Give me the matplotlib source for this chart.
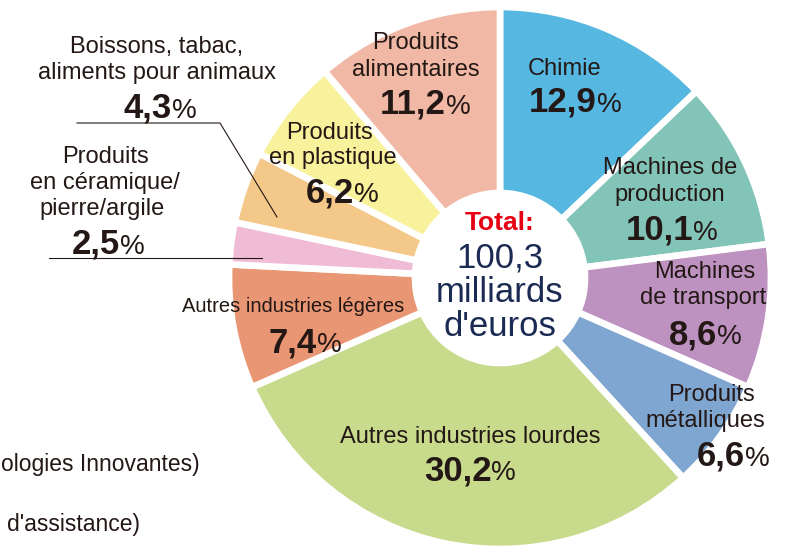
import matplotlib
matplotlib.use("Agg")
import matplotlib.pyplot as plt
from matplotlib.offsetbox import TextArea, HPacker, AnnotationBbox

# ---- data ----
categories = ["Chimie", "Machines de production", "Machines de transport",
              "Produits métalliques", "Autres industries lourdes",
              "Autres industries légères", "Produits en céramique/pierre/argile",
              "Boissons, tabac, aliments pour animaux", "Produits en plastique",
              "Produits alimentaires"]
values = [12.9, 10.1, 8.6, 6.6, 30.2, 7.4, 2.5, 4.3, 6.2, 11.2]
value_labels = ["12,9", "10,1", "8,6", "6,6", "30,2", "7,4", "2,5", "4,3", "6,2", "11,2"]
colors = ["#56B7E1", "#82C4B7", "#BE92C0", "#7FA5D1", "#C8DB8D",
          "#E99674", "#F0BBD5", "#F4C889", "#F8F29C", "#F1B9A5"]
total_lines = ["Total:", "100,3", "milliards", "d'euros"]

W, H = 800, 547
fig = plt.figure(figsize=(8, 5.47), dpi=100)
ax = fig.add_axes([0, 0, 1, 1])

FONT = ["Liberation Sans", "DejaVu Sans"]
DARK = "#231815"

def Y(py):
    return H - py

cx, cy = 500, Y(278)
R, r_in = 271, 85
ax.pie(values, colors=colors, startangle=90, counterclock=False,
       radius=R, center=(cx, cy),
       wedgeprops=dict(width=R - r_in, edgecolor="white", linewidth=4.8))
ax.set_xlim(0, W)
ax.set_ylim(0, H)
ax.set_aspect("auto")
ax.axis("off")

def label(x, py, s, size=17, **kw):
    ax.text(x, Y(py), s, fontsize=size, family=FONT, color=DARK,
            ha="center", va="center", **kw)

def pct(x, py, num):
    a = TextArea(num, textprops=dict(fontsize=25, fontweight="bold",
                                     family=FONT, color=DARK))
    b = TextArea("%", textprops=dict(fontsize=20, family=FONT, color=DARK))
    box = HPacker(children=[a, b], align="baseline", pad=0, sep=0)
    ab = AnnotationBbox(box, (x, Y(py)), frameon=False,
                        box_alignment=(0.5, 0.5), pad=0)
    ax.add_artist(ab)

# Chimie
label(565, 69, "Chimie")
pct(575, 102, value_labels[0])
# Machines de production
label(670, 168, "Machines de")
label(670, 195, "production")
pct(672, 230, value_labels[1])
# Machines de transport
label(705, 272, "Machines")
label(703, 298, "de transport")
pct(705, 335, value_labels[2])
# Produits métalliques
label(712, 395, "Produits")
label(705, 421, "métalliques")
pct(733, 456, value_labels[3])
# Autres industries lourdes
label(470, 437, "Autres industries lourdes")
pct(470, 471, value_labels[4])
# Autres industries légères
label(293, 307, "Autres industries légères", size=14.5)
pct(305, 343, value_labels[5])
# Céramique
label(105, 157, "Produits")
label(105, 183, "en céramique/")
label(102, 209, "pierre/argile")
pct(108, 244, value_labels[6])
# Boissons
label(157, 47, "Boissons, tabac,")
label(157, 73, "aliments pour animaux")
pct(160, 108, value_labels[7])
# Plastique
label(330, 133, "Produits")
label(333, 158, "en plastique")
pct(342, 193, value_labels[8])
# Alimentaires
label(416, 43, "Produits")
label(416, 70, "alimentaires")
pct(425, 104, value_labels[9])

# leader lines
ax.plot([77, 220, 277], [Y(123), Y(123), Y(217)], color=DARK, lw=0.8)
ax.plot([49, 262], [Y(258), Y(258)], color=DARK, lw=0.8)

# centre text
ax.text(500, Y(223), total_lines[0], fontsize=19, fontweight="bold",
        color="#E60012", family=FONT, ha="center", va="center")
for py, s in zip([258, 293, 327], total_lines[1:]):
    ax.text(500, Y(py), s, fontsize=25, color="#1B2A52", family=FONT,
            ha="center", va="center")

# partially cropped side notes
ax.text(200, Y(465), "ologies Innovantes)", fontsize=16.5, color=DARK,
        family=FONT, ha="right", va="center")
ax.text(140, Y(524), "d'assistance)", fontsize=16.5, color=DARK,
        family=FONT, ha="right", va="center")

fig.savefig("out.png", dpi=100)
